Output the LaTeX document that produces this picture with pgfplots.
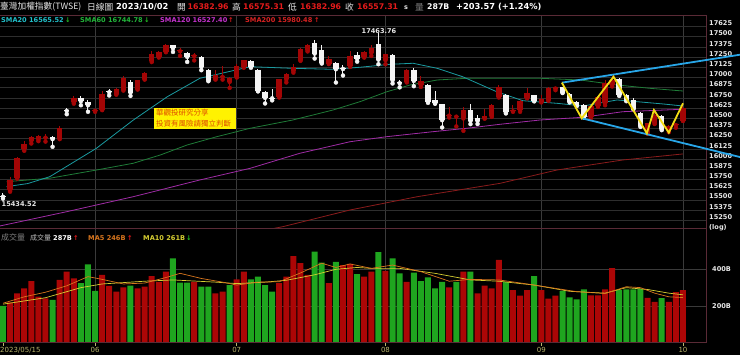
\documentclass[border=0pt]{standalone}
\usepackage{fontspec}
\setmainfont{DejaVu Sans}
\newfontfamily\cjk{Noto Sans CJK TC}
\usepackage{pgfplots}
\pgfplotsset{compat=1.18}
\usepackage{pgfplotstable}
\definecolor{candred}{HTML}{A30505}
\definecolor{candwhite}{HTML}{F4F4F4}
\definecolor{volred}{HTML}{AC0606}
\definecolor{volgreen}{HTML}{1FA51F}
\definecolor{smaA}{HTML}{1A9AA0}
\definecolor{smaB}{HTML}{1F7C38}
\definecolor{smaC}{HTML}{A02CA6}
\definecolor{smaD}{HTML}{8A1C1C}
\definecolor{legA}{HTML}{22C0CA}
\definecolor{legB}{HTML}{22B43A}
\definecolor{legC}{HTML}{C432CC}
\definecolor{legD}{HTML}{D82222}
\definecolor{maFive}{HTML}{D8761E}
\definecolor{maTen}{HTML}{D6CE32}
\definecolor{hgrid}{HTML}{2E2E2E}
\definecolor{vgrid}{HTML}{3A3A3A}
\definecolor{framec}{HTML}{5A2A36}
\definecolor{lbl}{HTML}{E8E8E8}
\definecolor{datec}{HTML}{BAB66C}
\definecolor{hred}{HTML}{E41B1B}
\definecolor{upg}{HTML}{22C022}
\definecolor{tline}{HTML}{28A6E8}
\definecolor{zig}{HTML}{F2DC14}
\definecolor{boxtxt}{HTML}{E04A00}

\pgfplotstableread{
i L B T H
1 15560 15575 15700 15744
2 15720 15731 15976 15990
3 16062 16082 16151 16180
4 16151 16185 16226 16242
5 16180 16201 16238 16255
6 16175 16222 16235 16265
8 16205 16214 16344 16370
10 16640 16654 16703 16728
13 16540 16552 16565 16575
14 16560 16568 16756 16790
16 16750 16756 16821 16835
17 16800 16813 16960 16985
19 16813 16817 16927 16935
20 16935 16940 17010 17030
21 17150 17160 17254 17285
22 17205 17213 17274 17285
23 17270 17279 17359 17370
25 17225 17282 17295 17320
27 17170 17222 17235 17260
30 16935 16940 16997 17050
31 16935 16968 16982 17107
32 16833 16906 16956 16965
33 16960 16968 17107 17120
34 17080 17090 17172 17180
39 16715 16723 16936 16945
40 16900 16936 17001 17010
41 17020 17041 17090 17130
42 17165 17172 17315 17320
43 17280 17295 17364 17375
46 17125 17132 17193 17230
49 17090 17099 17221 17280
51 17205 17213 17274 17285
52 17225 17262 17327 17356
54 17123 17172 17246 17250
57 16900 16906 17058 17070
59 16845 16866 16919 16980
63 16470 16493 16506 16600
64 16360 16480 16492 16495
65 16307 16458 16560 16593
68 16455 16462 16486 16580
69 16478 16486 16621 16633
70 16715 16723 16846 16870
72 16540 16545 16558 16620
73 16540 16560 16670 16680
74 16705 16711 16772 16830
76 16655 16662 16698 16740
77 16675 16682 16833 16840
78 16805 16825 16838 16850
83 16460 16470 16609 16615
84 16600 16609 16723 16730
85 16620 16642 16887 16925
86 16850 16870 16925 16980
91 16270 16282 16397 16405
92 16390 16397 16500 16520
94 16290 16315 16364 16380
95 16345 16377 16394 16405
96 16429 16429 16592 16615
}\upc

\pgfplotstableread{
i L B T H
0 15475 15497 15509 15541
7 16111 16205 16233 16240
9 16510 16550 16560 16585
11 16620 16670 16703 16728
12 16540 16620 16660 16680
15 16740 16780 16790 16820
18 16735 16776 16906 16925
24 17274 17320 17359 17365
26 17152 17213 17262 17270
28 17050 17090 17213 17220
29 16915 16927 17058 17070
35 17080 17090 17165 17175
36 16790 16796 17058 17060
37 16642 16711 16784 16790
38 16680 16705 16715 16820
44 17193 17254 17388 17425
45 17132 17144 17295 17356
47 16899 17062 17139 17145
48 16985 17065 17072 17110
50 17155 17193 17242 17270
53 17123 17180 17368 17507
55 16887 16927 17242 17245
56 16840 16890 16900 16930
58 16854 16919 17050 17078
60 16650 16662 16866 16880
61 16640 16642 16690 16790
62 16348 16437 16633 16640
66 16389 16429 16560 16633
67 16390 16429 16466 16500
71 16520 16532 16752 16760
75 16668 16674 16743 16750
79 16770 16776 16838 16850
80 16655 16662 16764 16770
81 16610 16621 16662 16670
82 16470 16478 16621 16630
87 16735 16743 16936 16950
88 16670 16682 16743 16760
89 16570 16580 16682 16710
90 16355 16364 16527 16540
93 16315 16323 16486 16500
}\dnc

\pgfplotstableread{
i v
1 220
2 269
3 296
4 336
5 251
6 242
8 342
9 387
10 351
14 369
15 309
16 278
17 302
19 296
20 305
21 363
22 332
23 387
27 332
30 269
31 278
33 345
34 387
39 324
40 360
41 472
42 433
43 369
46 324
48 423
49 429
51 360
52 387
54 391
57 332
63 302
65 387
67 269
68 311
69 296
70 451
72 287
73 256
74 287
76 287
77 240
78 256
83 258
84 258
85 291
86 407
91 244
92 223
94 223
95 275
96 287
}\volr

\pgfplotstableread{
i v
0 200
7 233
11 324
12 427
13 283
18 311
24 460
25 327
26 327
28 305
29 305
32 314
35 345
36 360
37 314
38 278
44 496
45 436
47 441
50 374
53 493
55 460
56 378
58 382
59 336
60 356
61 296
62 332
64 332
66 387
71 330
75 363
79 282
80 247
81 236
82 291
87 287
88 290
89 290
90 292
93 243
}\volg

\newcommand\hb{\fontsize{8.3}{9}\selectfont\bfseries}
\newcommand\hn{\fontsize{7.8}{9}\selectfont\bfseries}
\newcommand\hc{\cjk\fontsize{8.7}{9}\selectfont}
\newcommand\lb{\fontsize{6.6}{7}\selectfont\bfseries}

\begin{document}
\begin{tikzpicture}
\fill[black] (0pt,0pt) rectangle (740pt,355pt);

% ---------- price panel ----------
\begin{axis}[at={(0pt,127pt)}, anchor=south west, scale only axis,
  width=706pt, height=213pt,
  xmin=-0.4235, xmax=99.25, ymin=15115, ymax=17727,
  scaled y ticks=false, scaled x ticks=false,
  axis line style={draw=none}, major tick length=0pt,
  xtick={13,33,54,76,96}, xticklabels={},
  xmajorgrids=true, major grid style={color=vgrid, line width=0.6pt},
  ytick={15250,15375,...,17625},
  yticklabels={15250,15375,15500,15625,15750,15875,16000,16125,16250,16375,16500,16625,16750,16875,17000,17125,17250,17375,17500,17625},
  yticklabel pos=right,
  yticklabel style={font=\lb, color=lbl, anchor=west, inner sep=0pt, xshift=3pt},
  extra y ticks={15210,15335,...,17585}, extra y tick labels={},
  extra y tick style={grid=major, major grid style={color=hgrid, line width=0.6pt}},
]
\addplot[smaD, line width=0.8pt] coordinates {(25,14880) (33.5,15030) (39.5,15131) (49,15336) (58.5,15499) (70.2,15663) (78.2,15826) (87.5,15949) (96,16023)};
\addplot[smaC, line width=0.8pt] coordinates {(-0.42,15140) (9,15315) (18.4,15499) (27.8,15704) (34.9,15847) (41.9,16031) (49,16173) (54.2,16235) (60.7,16296) (65.5,16338) (70.2,16387) (75.8,16439) (81.9,16473) (87.5,16541) (96,16571)};
\addplot[smaB, line width=0.8pt] coordinates {(0.5,15683) (6.6,15725) (13.2,15826) (18.4,15909) (22.2,16010) (26,16133) (30.2,16235) (34.9,16338) (40.9,16439) (46.6,16562) (50.4,16664) (54.2,16786) (57.5,16869) (61.3,16930) (65.5,16951) (70.2,16951) (75.8,16951) (81.5,16930) (86.7,16869) (91.3,16828) (96,16795)};
\addplot[smaA, line width=0.8pt] coordinates {(0.5,15622) (3.5,15660) (6.6,15744) (13.2,16093) (18.4,16439) (23.2,16725) (27.8,16951) (34.9,17093) (40.9,17073) (46.6,17061) (50.4,17086) (54.6,17122) (57.9,17135) (61.3,17073) (64.9,16970) (69.7,16786) (73.4,16676) (78.2,16644) (81.9,16611) (86.7,16685) (89.5,16664) (93.2,16636) (96,16611)};
\addplot[candred, only marks, mark=none, error bars/.cd, y dir=plus, y explicit, error mark=none, error bar style={line width=1pt, candred}]
  table[x=i, y=L, y error expr=\thisrow{H}-\thisrow{L}] {\upc};
\addplot[candwhite, only marks, mark=none, error bars/.cd, y dir=plus, y explicit, error mark=none, error bar style={line width=1pt, candwhite}]
  table[x=i, y=L, y error expr=\thisrow{H}-\thisrow{L}] {\dnc};
\addplot[candred, only marks, mark=none, error bars/.cd, y dir=plus, y explicit, error mark=none, error bar style={line width=5.5pt, candred}]
  table[x=i, y=B, y error expr=\thisrow{T}-\thisrow{B}] {\upc};
\addplot[candwhite, only marks, mark=none, error bars/.cd, y dir=plus, y explicit, error mark=none, error bar style={line width=5.5pt, candwhite}]
  table[x=i, y=B, y error expr=\thisrow{T}-\thisrow{B}] {\dnc};
\end{axis}

% ---------- volume panel ----------
\begin{axis}[at={(0pt,12pt)}, anchor=south west, scale only axis,
  width=706pt, height=115pt,
  xmin=-0.4235, xmax=99.25, ymin=-1.6, ymax=625,
  scaled y ticks=false, scaled x ticks=false,
  axis line style={draw=none},
  tick align=outside, major tick length=3pt,
  xtick pos=left,
  xtick={13,33,54,76,96}, xticklabels={06,07,08,09,10},
  xtick style={color=datec, line width=0.6pt},
  xticklabel style={font=\fontsize{7}{7}\selectfont, color=datec, anchor=north, inner sep=0pt, yshift=-1.5pt},
  extra x ticks={0}, extra x tick labels={2023/05/15},
  extra x tick style={xmajorgrids=false, xticklabel style={anchor=north west, xshift=-3pt}},
  xmajorgrids=true, ymajorgrids=true,
  major grid style={color=vgrid, line width=0.6pt},
  ytick={200,400}, yticklabels={200B,400B}, ytick style={draw=none},
  yticklabel pos=right,
  yticklabel style={font=\lb, color=lbl, anchor=west, inner sep=0pt, xshift=3pt},
]
\addplot[ybar, bar width=6pt, bar shift=0pt, fill=volred, draw=none] table[x=i, y=v] {\volr};
\addplot[ybar, bar width=6pt, bar shift=0pt, fill=volgreen, draw=none] table[x=i, y=v] {\volg};
\addplot[maTen, line width=0.7pt] coordinates {(0,210) (6,245) (11,300) (14,320) (20,335) (24,342) (30,330) (33,322) (37,330) (40,340) (44,370) (47,400) (50,410) (52,405) (56,405) (61,378) (66,342) (70,335) (75,314) (80,280) (85,270) (88,300) (91,290) (94,270) (96,261)};
\addplot[maFive, line width=0.7pt] coordinates {(0,215) (3,250) (6,275) (9,310) (12,360) (14,345) (17,320) (20,325) (23,355) (25,378) (28,350) (31,330) (33,314) (36,330) (39,332) (42,380) (45,433) (47,410) (49,429) (52,405) (55,423) (59,387) (63,335) (66,345) (70,342) (74,320) (78,296) (81,278) (85,268) (88,305) (90,300) (92,270) (94,250) (96,246)};
\end{axis}

\draw[framec, line width=0.8pt] (0pt,340pt) -- (706.5pt,340pt) -- (706.5pt,12.3pt) -- (0pt,12.3pt);
\draw[framec, line width=0.8pt] (0pt,127pt) -- (706.5pt,127pt);

% ---------- trend annotation (unclipped) ----------
\begin{axis}[at={(0pt,127pt)}, anchor=south west, scale only axis,
  width=706pt, height=213pt,
  xmin=-0.4235, xmax=99.25, ymin=15115, ymax=17727,
  hide axis, clip=false]
\addplot[tline, line width=1.8pt] coordinates {(78.9,16897) (104.05,17240)};
\addplot[tline, line width=1.8pt] coordinates {(81.7,16461) (104.05,15985)};
\addplot[zig, line width=1.8pt, line join=miter] coordinates {(78.9,16897) (81.7,16461) (86.2,16970) (90.9,16276) (91.9,16562) (94.0,16284) (96.0,16644)};
\end{axis}

\node[anchor=west, inner sep=0pt, font=\lb, color=lbl] at (709pt,127.5pt) {(log)};
\node[anchor=center, inner sep=0pt, font=\lb, color=lbl] at (379pt,323.5pt) {17463.76};
\node[anchor=west, inner sep=0pt, font=\lb, color=lbl] at (1.5pt,151pt) {15434.52};

\fill[yellow] (154pt,247pt) rectangle (236pt,226pt);
\node[anchor=west, inner sep=0pt, color=boxtxt] at (156pt,242pt) {\cjk\fontsize{7.5}{8}\selectfont 華觀投研究分享};
\node[anchor=west, inner sep=0pt, color=boxtxt] at (156pt,231.5pt) {\cjk\fontsize{7.5}{8}\selectfont 投資有風險請獨立判斷};

\node[anchor=west, inner sep=0pt, color=lbl] at (0pt,348pt) {\hc 臺灣加權指數(TWSE)};
\node[anchor=west, inner sep=0pt, color=lbl] at (87pt,348pt) {\hc 日線圖};
\node[anchor=west, inner sep=0pt, color=white] at (116pt,348pt) {\hb 2023/10/02};
\node[anchor=west, inner sep=0pt, color=lbl] at (177pt,348pt) {\hc 開};
\node[anchor=west, inner sep=0pt, color=hred] at (187.5pt,348pt) {\hn 16382.96};
\node[anchor=west, inner sep=0pt, color=lbl] at (232pt,348pt) {\hc 高};
\node[anchor=west, inner sep=0pt, color=hred] at (243pt,348pt) {\hn 16575.31};
\node[anchor=west, inner sep=0pt, color=lbl] at (288pt,348pt) {\hc 低};
\node[anchor=west, inner sep=0pt, color=hred] at (300pt,348pt) {\hn 16382.96};
\node[anchor=west, inner sep=0pt, color=lbl] at (345pt,348pt) {\hc 收};
\node[anchor=west, inner sep=0pt, color=hred] at (357pt,348pt) {\hn 16557.31};
\node[anchor=west, inner sep=0pt, color=lbl] at (404pt,347.5pt) {\fontsize{6.5}{7}\selectfont\bfseries s};
\node[anchor=west, inner sep=0pt, color=gray] at (415pt,348pt) {\hc 量};
\node[anchor=west, inner sep=0pt, color=white] at (427pt,348pt) {\hn 287B};
\node[anchor=west, inner sep=0pt, color=white] at (456pt,348pt) {\hb +203.57 (+1.24\%)};

\node[anchor=west, inner sep=0pt, color=legA] at (1pt,335.3pt) {\lb SMA20 16565.52};
\node[anchor=west, inner sep=0pt, color=upg] at (65pt,335.3pt) {\lb ↓};
\node[anchor=west, inner sep=0pt, color=legB] at (80pt,335.3pt) {\lb SMA60 16744.78};
\node[anchor=west, inner sep=0pt, color=upg] at (144pt,335.3pt) {\lb ↓};
\node[anchor=west, inner sep=0pt, color=legC] at (160pt,335.3pt) {\lb SMA120 16527.40};
\node[anchor=west, inner sep=0pt, color=hred] at (228pt,335.3pt) {\lb ↑};
\node[anchor=west, inner sep=0pt, color=legD] at (245pt,335.3pt) {\lb SMA200 15980.48};
\node[anchor=west, inner sep=0pt, color=hred] at (314pt,335.3pt) {\lb ↑};

\node[anchor=west, inner sep=0pt, color=gray] at (1pt,117.3pt) {\cjk\fontsize{8}{8}\selectfont 成交量};
\node[anchor=west, inner sep=0pt, color=lightgray] at (30pt,117.3pt) {\cjk\fontsize{7}{8}\selectfont 成交量};
\node[anchor=west, inner sep=0pt, color=white] at (53pt,117.3pt) {\lb 287B};
\node[anchor=west, inner sep=0pt, color=hred] at (73pt,117.3pt) {\lb ↑};
\node[anchor=west, inner sep=0pt, color=maFive] at (88pt,117.3pt) {\lb MA5 246B};
\node[anchor=west, inner sep=0pt, color=hred] at (127pt,117.3pt) {\lb ↑};
\node[anchor=west, inner sep=0pt, color=maTen] at (143pt,117.3pt) {\lb MA10 261B};
\node[anchor=west, inner sep=0pt, color=upg] at (186pt,117.3pt) {\lb ↓};

\pgfresetboundingbox
\useasboundingbox (0pt,0pt) rectangle (740pt,355pt);
\end{tikzpicture}
\end{document}
